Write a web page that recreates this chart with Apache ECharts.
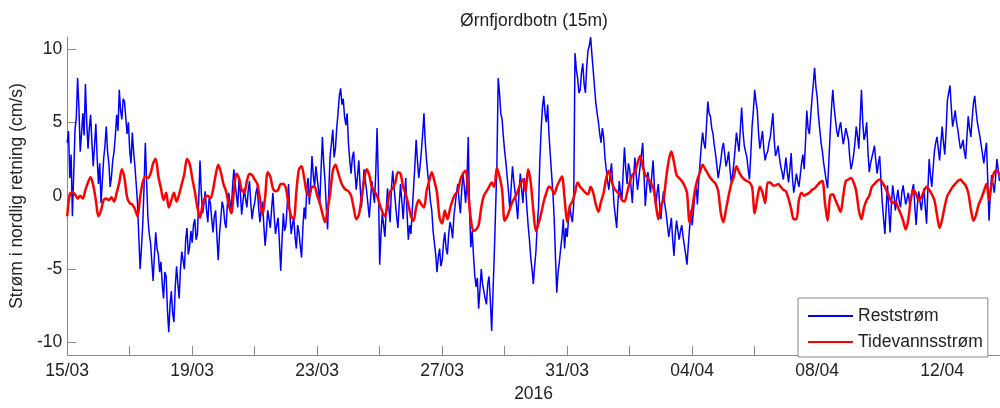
<!DOCTYPE html>
<html>
<head>
<meta charset="utf-8">
<script src="https://cdn.jsdelivr.net/npm/echarts@6/dist/echarts.min.js"></script>
<style>
  html, body { margin: 0; padding: 0; background: #fff; }
  #chart { width: 1000px; height: 408px; }
</style>
</head>
<body>
<div id="chart"></div>
<script>
// first sample 15/03/2016 00:00; Reststrøm hourly, Tidevannsstrøm every 2 hours
const BLUE_STEP = 1 / 24;
const RED_STEP = 1 / 12;
const START = new Date(2016, 2, 15);

// Reststrøm (cm/s), one row per day
const reststrom = [
  3.6, 4.4, 1.2, 2.8, -1.4, 1.5, 4.5, 5.3, 8.0, 6.0, 3.0, 4.2, 5.6, 4.1, 7.6, 5.0, 3.2, 4.6, 5.5, 3.6, 2.0, 3.4, 4.9, 2.6,
  0.8, 2.2, -0.5, 1.0, 2.5, 3.4, 4.7, 3.0, 2.2, 0.6, 1.3, 2.4, 3.0, 4.1, 5.5, 4.4, 7.2, 5.8, 5.2, 6.6, 6.4, 5.3, 4.2, 5.0,
  3.1, 2.2, 4.3, 3.0, 2.0, 0.8, -0.5, -2.8, -5.0, -3.6, -2.0, 0.5, 3.6, 1.0, -1.5, -2.6, -3.2, -4.5, -5.8, -4.0, -2.5, -3.6, -4.0, -5.2,
  -4.5, -6.0, -7.0, -5.2, -5.5, -7.8, -9.3, -7.4, -6.5, -8.0, -8.6, -6.2, -4.8, -6.0, -7.0, -5.0, -3.8, -4.4, -5.0, -3.0, -2.2, -4.0, -3.5, -2.4,
  -3.2, -2.0, -1.6, -3.0, -2.6, -0.4, 2.4, 0.2, -1.2, -0.6, 0.3, -1.0, -1.8, -0.2, -0.5, -1.6, -2.5, -1.4, -1.0, -2.8, -4.4, -2.6, -1.5, -0.4,
  -0.8, -1.8, -2.2, -0.6, 0.2, -0.4, -1.0, 0.6, 1.8, 0.8, 0.0, -0.8, 1.2, 0.2, -1.3, -0.4, 0.5, -0.2, -0.8, 0.3, 1.0, -0.5, -1.6, -0.9,
  -0.5, 0.2, 0.6, -0.8, -1.8, -1.0, -0.4, -2.0, -3.4, -2.4, -1.0, -1.6, -2.2, -0.9, 0.2, -1.4, -2.6, -2.0, -1.5, -3.2, -5.1, -3.0, -1.2, -2.4,
  -2.0, -0.6, 0.8, -1.2, -2.6, -2.0, -1.5, -2.8, -3.6, -2.0, -2.5, -3.4, -4.2, -2.2, -0.8, -1.6, 0.5, 1.2, -0.6, 0.8, 2.7, 1.4, 0.6, 2.0,
  1.2, 0.4, -0.5, 1.8, 4.0, 2.2, 1.0, -0.8, -2.3, 0.6, 2.8, 3.6, 4.5, 2.6, 3.2, 4.6, 5.6, 6.8, 7.3, 6.2, 6.6, 5.4, 4.8, 5.6,
  3.6, 2.4, 1.5, 2.6, 3.0, 1.6, 0.4, 1.4, 2.4, 0.6, -0.8, 0.4, 1.8, 1.0, 0.3, -0.6, -1.5, -0.2, 1.0, 0.2, -0.5, 1.6, 4.6, 0.8,
  -4.7, -2.6, -1.2, -2.0, -2.8, -1.0, 0.5, -0.8, -1.8, 0.4, 1.7, 0.6, -0.4, -1.4, -2.2, -0.6, 0.8, -0.4, -1.6, -0.2, 1.2, -1.2, -3.0, -2.0,
  -2.6, -1.0, 0.5, 2.0, 3.8, 2.4, 1.2, 2.0, 3.0, 4.2, 5.6, 3.6, 2.4, 1.4, 0.6, -0.4, -1.0, -2.4, -3.2, -4.0, -5.2, -4.2, -3.6, -4.8,
  -4.4, -3.2, -2.5, -3.6, -4.0, -2.6, -1.8, -2.2, -2.9, -1.4, -0.6, 0.2, 0.8, -0.4, -1.2, 0.4, 1.5, 0.6, -0.5, 1.0, 4.0, -1.0, -3.5, -2.4,
  -4.0, -5.4, -6.2, -5.6, -7.7, -6.4, -5.0, -6.0, -6.5, -7.0, -7.4, -6.0, -5.5, -7.2, -9.2, -6.6, -4.0, -1.0, 2.0, 8.0, 7.0, 5.6, 5.2, 4.0,
  3.0, 2.2, 1.2, 0.2, -1.0, 0.6, 2.0, 1.0, 0.2, -0.6, -1.6, 0.2, 1.5, 0.4, -0.5, 1.2, 0.8, -0.8, -2.0, -3.0, -4.2, -5.0, -6.0, -4.8,
  -3.8, -2.0, -0.8, 2.4, 4.5, 6.0, 6.8, 5.6, 5.0, 6.2, 4.2, 2.8, 1.5, 0.2, -1.5, -4.2, -6.6, -5.2, -4.5, -3.6, -2.8, -1.6, -3.6, -2.2,
  -2.8, -1.6, -0.7, -1.4, -1.8, -0.6, 9.7, 8.6, 8.0, 7.0, 7.2, 8.4, 9.0, 7.6, 7.0, 8.8, 9.9, 10.2, 10.8, 9.6, 8.5, 7.4, 6.3, 5.6,
  5.0, 4.2, 3.6, 4.6, 4.0, 2.6, 1.8, 1.0, 0.4, 1.4, 2.2, 0.8, -0.6, -1.4, -2.2, -0.4, 1.0, 0.2, -0.3, 1.6, 3.3, 1.8, 0.8, 2.2,
  1.8, 0.6, -0.5, 1.2, 2.6, 1.4, 0.4, 1.2, 2.0, 2.8, 3.6, 1.4, -0.7, 0.6, 1.6, 0.8, 0.2, 1.4, 2.4, 0.6, -0.8, 0.2, 0.8, -0.6,
  -1.6, -0.4, 0.3, -0.6, -1.2, -2.0, -2.8, -2.2, -1.5, -3.0, -4.1, -2.6, -1.7, -2.4, -3.0, -2.4, -2.0, -2.8, -3.4, -4.0, -4.7, -3.4, -2.2, -1.0,
  -2.0, -1.0, 0.0, 0.8, -0.6, 1.0, 2.2, 3.4, 4.3, 3.6, 3.2, 4.8, 6.4, 5.6, 5.4, 4.6, 4.2, 3.4, 2.8, 2.0, 1.2, 1.8, 2.4, 3.2,
  3.6, 2.8, 2.0, 2.4, 3.0, 1.8, 0.9, 1.4, 2.2, 3.2, 4.3, 3.6, 3.0, 4.6, 6.0, 4.4, 3.4, 3.0, 2.6, 1.8, 1.1, 2.8, 4.7, 5.8,
  7.2, 6.4, 5.8, 4.2, 3.2, 3.8, 4.4, 3.2, 2.4, 2.8, 3.0, 3.6, 4.0, 4.8, 5.6, 3.8, 2.7, 3.0, 3.4, 2.6, 2.0, 1.6, 1.1, 1.8,
  2.6, 1.6, 0.9, 1.8, 2.9, 1.2, 0.2, 0.8, 1.5, 1.0, 0.6, 1.4, 2.2, 2.8, 1.8, 3.6, 5.8, 4.6, 4.2, 5.4, 6.6, 7.6, 8.7, 7.4,
  6.7, 5.4, 4.5, 3.6, 3.0, 2.2, 1.6, 1.0, 0.5, 2.4, 4.3, 6.0, 7.2, 6.0, 5.2, 4.4, 4.0, 4.6, 5.0, 4.2, 3.5, 4.0, 4.6, 4.2,
  3.8, 2.6, 1.8, 2.2, 2.8, 3.6, 4.7, 4.0, 3.2, 5.2, 7.2, 5.0, 3.8, 4.2, 5.0, 3.0, 1.6, 2.2, 2.6, 3.0, 3.4, 2.4, 1.5, 2.2,
  2.7, 1.0, -0.5, -1.6, -2.6, -0.8, 0.7, -1.0, -2.5, -0.6, 0.7, 0.0, -1.0, -0.2, 0.4, -0.4, -0.8, 0.2, 0.7, 0.0, -0.6, -0.2, 0.2, -0.6,
  -0.2, 0.4, 0.8, -0.8, -2.0, -0.6, 0.3, -0.4, -1.0, -0.2, 0.5, -0.8, -1.9, 0.4, 2.5, 1.4, 0.6, 1.8, 3.0, 3.6, 4.0, 3.2, 2.4, 3.6,
  4.7, 3.6, 2.8, 4.4, 6.5, 7.0, 7.5, 6.0, 4.7, 5.2, 5.8, 5.0, 4.5, 3.8, 3.2, 3.4, 3.8, 3.0, 2.5, 4.0, 5.4, 4.6, 4.0, 5.2,
  6.3, 6.8, 5.8, 5.0, 4.5, 4.0, 3.4, 2.8, 2.2, 3.0, 3.6, 1.0, -1.7, 0.2, 1.4, 0.8, 0.2, 1.2, 2.5, 1.8, 1.0
];

// Tidevannsstrøm (cm/s), one row per day
const tidevann = [
  -1.4, 0.1, 0.25, 0.1, -0.2, 0.0, -0.2, 0.4, 0.9, 1.25, 0.7, -0.3,
  -1.4, -1.0, -0.3, -0.2, -0.3, -0.1, -0.4, 0.2, 0.9, 1.8, 1.2, -0.1,
  -0.5, -0.6, -0.9, -1.4, -0.1, 0.9, 1.3, 1.2, 1.5, 2.2, 2.5, 1.3,
  0.5, -0.3, 0.2, -0.8, -0.3, 0.2, -0.4, 0.1, 0.8, 1.5, 2.5, 2.2,
  1.2, 0.3, -0.8, -1.5, -0.6, -0.1, 0.0, -0.2, 0.4, 1.4, 2.1, 1.6,
  0.8, 0.3, -0.6, -1.2, 0.3, 1.5, 1.2, 0.4, 0.2, 1.0, 1.5, 1.4,
  1.1, 0.8, -0.2, -1.3, -0.1, 1.6, 1.3, 0.5, 0.3, 0.4, 0.8, 0.8,
  0.5, -0.6, -1.4, -1.6, 0.3, 1.8, 2.0, 1.2, 0.2, 0.0, 0.6, 0.6,
  0.0, -0.5, -1.2, -1.8, -0.9, 0.2, 1.7, 2.1, 1.6, 1.0, 0.6, 0.4,
  0.3, 0.0, -0.8, -1.6, -1.3, -0.2, 1.0, 1.8, 1.4, 0.6, 0.3, 0.0,
  -0.6, -1.1, -1.4, -0.6, 0.3, 0.5, 0.9, 1.6, 1.5, 0.6, 0.1, -0.6,
  -1.4, -1.7, -0.8, -0.3, -0.6, -0.8, 0.3, 1.0, 1.6, 1.0, 0.2, -1.5,
  -1.9, -1.0, -1.6, -0.9, -0.3, 0.1, 0.3, 1.1, 1.5, 1.7, 0.2, -1.6,
  -2.4, -2.3, -2.0, -0.8, 0.0, 0.3, 0.6, 0.9, 0.6, 1.9, 1.3, 0.4,
  -1.7, -1.4, -0.9, -0.4, -0.1, 0.3, 0.8, 1.1, 0.3, 1.8, 0.9, -1.0,
  -2.4, -1.9, -1.2, -0.4, 0.2, 0.6, 0.5, 0.1, 0.6, 1.0, 1.3, -0.2,
  -1.8, -0.7, -0.4, 0.2, 0.9, 0.6, 0.4, 0.2, 0.1, 0.6, 0.2, -0.6,
  -1.1, -0.4, 0.2, 1.2, 1.7, 1.0, 0.5, 0.3, 0.1, -0.3, -0.4, 0.2,
  0.9, 1.4, 1.6, 2.2, 2.7, 2.0, 1.4, 1.2, 0.9, 0.6, -0.5, -1.6,
  -0.7, -0.3, 1.2, 2.4, 3.0, 2.3, 1.4, 1.2, 1.0, 0.7, 0.2, -1.8,
  -0.9, 0.3, 1.1, 1.6, 2.1, 1.8, 1.5, 1.2, 1.0, 0.8, 0.3, -1.2,
  -1.8, -0.9, 0.0, 0.8, 1.3, 2.0, 1.6, 1.3, 1.1, 1.0, 0.9, 0.6,
  -1.2, -0.2, 0.6, 0.2, -0.5, 0.9, 0.9, 0.7, 0.7, 0.8, 0.6, 0.4,
  0.3, -0.2, -0.9, -1.6, -1.6, -0.3, 0.2, 0.0, 0.1, 0.2, 0.4, 0.5,
  0.7, 0.9, 1.0, -0.5, -1.7, 0.0, 0.1, -0.3, -0.7, -1.1, 0.0, 1.0,
  1.1, 1.2, 0.9, 0.3, -1.0, -1.6, -0.8, -0.3, 0.0, 0.6, 0.8, 1.0,
  1.1, 0.9, 0.6, 0.2, -0.2, -0.5, -0.4, -0.8, -1.2, -1.7, -2.3, -1.6,
  -0.2, 0.4, 0.1, -0.3, -0.1, 0.3, 0.6, 0.4, 0.1, -0.3, -1.3, -2.2,
  -1.6, -0.7, 0.0, 0.3, 0.6, 0.8, 1.0, 1.1, 0.9, 0.7, 0.2, -0.9,
  -1.7, -1.3, -0.6, -0.2, 0.3, 0.8, -0.3, 0.9, 1.6, 1.7, 1.4
];

// axis ticks (days since 15/03) and labels
const xTicks = [0, 2, 4, 6, 8, 10, 12, 14, 16, 18, 20, 22, 24, 26, 28];
const xLabels = [0, 4, 8, 12, 16, 20, 24, 28];
const yTicks = [-10, -5, 0, 5, 10];

const FONT = '"Liberation Sans", Arial, sans-serif';
const TXT = '#222';
const AXIS = '#8a8a8a';

function dayLabel(v) {
  const d = new Date(START.getTime() + v * 86400000);
  const dd = String(d.getDate()).padStart(2, '0');
  const mm = String(d.getMonth() + 1).padStart(2, '0');
  return dd + '/' + mm;
}

const toPairs = (arr, step) => arr.map((v, i) => [i * step, v]);

const chart = echarts.init(document.getElementById('chart'));
chart.setOption({
  animation: false,
  backgroundColor: '#fff',
  title: {
    text: 'Ørnfjordbotn (15m)',
    left: 529,
    top: 7,
    textAlign: 'center',
    textStyle: { fontFamily: FONT, fontSize: 17.5, fontWeight: 'normal', color: TXT }
  },
  grid: { left: 67, right: 0, top: 37, bottom: 51 },
  legend: {
    orient: 'vertical',
    left: 798,
    top: 298,
    padding: [9, 5, 6, 9],
    itemGap: 8,
    itemWidth: 45,
    itemHeight: 14,
    itemStyle: { opacity: 0 },
    borderColor: '#888',
    borderWidth: 1,
    backgroundColor: '#fff',
    textStyle: { fontFamily: FONT, fontSize: 17.5, color: TXT },
    data: ['Reststrøm', 'Tidevannsstrøm']
  },
  xAxis: {
    type: 'value',
    min: 0,
    max: 29.85,
    name: '2016',
    nameLocation: 'middle',
    nameGap: 27,
    nameTextStyle: { fontFamily: FONT, fontSize: 17.5, color: TXT },
    axisLine: { show: true, onZero: false, lineStyle: { color: AXIS, width: 1 } },
    axisTick: { show: true, inside: true, length: 9, customValues: xTicks, lineStyle: { color: AXIS } },
    axisLabel: {
      customValues: xLabels,
      formatter: dayLabel,
      margin: 7,
      fontFamily: FONT, fontSize: 17.5, color: TXT
    },
    splitLine: { show: false }
  },
  yAxis: {
    type: 'value',
    min: -10.85,
    max: 10.8,
    name: 'Strøm i nordlig retning (cm/s)',
    nameLocation: 'middle',
    nameGap: 39,
    nameTextStyle: { fontFamily: FONT, fontSize: 17.5, color: TXT },
    axisLine: { show: true, onZero: false, lineStyle: { color: AXIS, width: 1 } },
    axisTick: { show: true, inside: true, length: 9, customValues: yTicks, lineStyle: { color: AXIS } },
    axisLabel: {
      customValues: yTicks,
      margin: 5,
      fontFamily: FONT, fontSize: 17.5, color: TXT
    },
    splitLine: { show: false }
  },
  series: [
    {
      name: 'Reststrøm',
      type: 'line',
      data: toPairs(reststrom, BLUE_STEP),
      symbol: 'none',
      lineStyle: { color: '#0000ff', width: 1.5 },
      itemStyle: { color: '#0000ff' },
      z: 2
    },
    {
      name: 'Tidevannsstrøm',
      type: 'line',
      data: toPairs(tidevann, RED_STEP),
      symbol: 'none',
      smooth: 0.3,
      lineStyle: { color: '#ff0000', width: 2.5 },
      itemStyle: { color: '#ff0000' },
      z: 3
    }
  ]
});
</script>
</body>
</html>
